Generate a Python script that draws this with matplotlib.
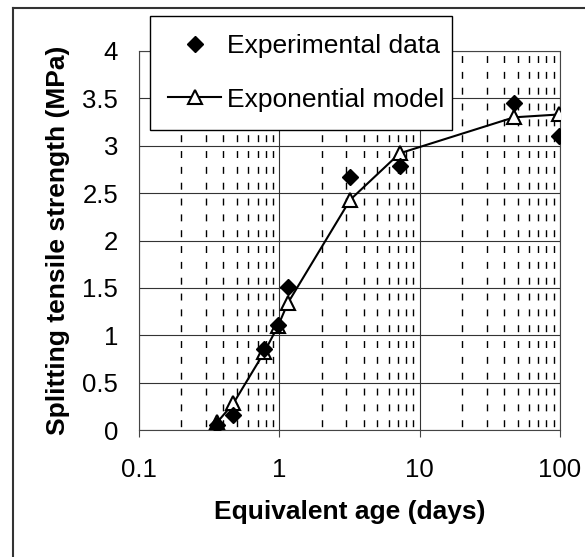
import matplotlib.pyplot as plt
from matplotlib.lines import Line2D
from matplotlib.ticker import LogLocator, NullFormatter, FixedLocator

plt.rcParams['font.family'] = ['Liberation Sans', 'DejaVu Sans']
plt.rcParams['lines.scale_dashes'] = False

# measured splitting tensile strength vs. equivalent age
age_exp = [0.36, 0.47, 0.78, 0.98, 1.15, 3.2, 7.2, 47, 98]
strength_exp = [0.05, 0.16, 0.85, 1.11, 1.51, 2.67, 2.79, 3.45, 3.10]

# exponential model evaluated at the same ages
age_model = [0.36, 0.47, 0.78, 0.98, 1.15, 3.2, 7.2, 47, 98]
strength_model = [0.08, 0.28, 0.82, 1.10, 1.34, 2.43, 2.92, 3.30, 3.33]

x_ticks = [0.1, 1, 10, 100]
x_ticklabels = ['0.1', '1', '10', '100']
y_ticks = [0, 0.5, 1, 1.5, 2, 2.5, 3, 3.5, 4]
y_ticklabels = ['0', '0.5', '1', '1.5', '2', '2.5', '3', '3.5', '4']

fig = plt.figure(figsize=(5.85, 5.57), dpi=100)
ax = fig.add_axes([139 / 585, 127 / 557, 421 / 585, 379 / 557])

ax.set_xscale('log')
ax.set_xlim(0.1, 100)
ax.set_ylim(0, 4)

ax.xaxis.set_major_locator(FixedLocator(x_ticks))
ax.set_xticklabels(x_ticklabels)
ax.xaxis.set_minor_locator(LogLocator(base=10, subs=range(2, 10)))
ax.xaxis.set_minor_formatter(NullFormatter())
ax.set_yticks(y_ticks)
ax.set_yticklabels(y_ticklabels)

ax.tick_params(axis='x', which='major', direction='out', length=5, width=0.8,
               color='#444444', pad=15, labelsize=18.5)
ax.tick_params(axis='x', which='minor', length=0)
ax.tick_params(axis='y', length=0, pad=15, labelsize=18.5)

# solid major grid, dashed minor verticals
ax.grid(True, which='major', axis='both', color='#333333', linewidth=0.8)
ax.grid(True, which='minor', axis='x', color='black', linewidth=1.0,
        linestyle=(9.0, (5.0, 6.4)))
ax.set_axisbelow(True)

for side in ['left', 'bottom', 'top', 'right']:
    ax.spines[side].set_color('#444444')
    ax.spines[side].set_linewidth(0.8)

ax.plot(age_model, strength_model, color='black', linewidth=1.5,
        marker='^', markersize=10, markerfacecolor='white',
        markeredgecolor='black', markeredgewidth=1.5,
        label='Exponential model', zorder=3)
ax.plot(age_exp, strength_exp, linestyle='none', marker='D', markersize=8,
        color='black', label='Experimental data', zorder=4)

handles, labels = ax.get_legend_handles_labels()
leg = ax.legend(handles[::-1], labels[::-1], loc='upper left', mode='expand',
                bbox_to_anchor=(11 / 421, 414 / 379, 302 / 421, 0),
                borderaxespad=0, fontsize=19, frameon=True, fancybox=False,
                framealpha=1, edgecolor='black', borderpad=0.7,
                labelspacing=1.1, handlelength=2.0, handletextpad=0.2)
leg.get_frame().set_linewidth(1.0)
leg.set_zorder(10)

ax.set_xlabel('Equivalent age (days)', fontsize=19, fontweight='bold')
ax.set_ylabel('Splitting tensile strength (MPa)', fontsize=19, fontweight='bold')
ax.xaxis.set_label_coords(0.5, -0.185)
ax.yaxis.set_label_coords(-0.165, 0.5)

# outer chart border (left and top edges only)
fig.add_artist(Line2D([12.5 / 585, 12.5 / 585], [0, 1 - 7.5 / 557],
                      transform=fig.transFigure, color='#333333', linewidth=1.5))
fig.add_artist(Line2D([12.5 / 585, 1], [1 - 7.5 / 557, 1 - 7.5 / 557],
                      transform=fig.transFigure, color='#333333', linewidth=1.5))

fig.savefig('out.png', dpi=100)
